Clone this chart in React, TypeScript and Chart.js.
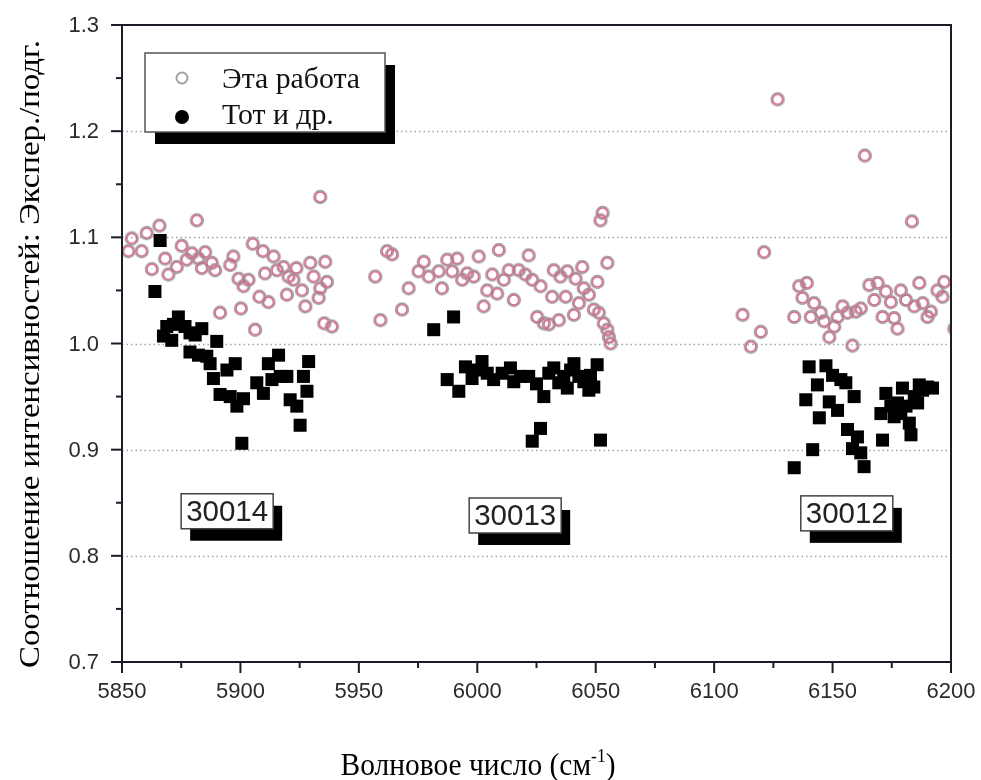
import React, { useEffect, useRef } from "react";
import { Chart, registerables } from "chart.js";
Chart.register(...registerables);

const X_MIN = 5850;
const X_MAX = 6200;
const Y_MIN = 0.7;
const Y_MAX = 1.3;
const X_STEP = 50;
const Y_STEP = 0.1;
const xTickLabels = ["5850", "5900", "5950", "6000", "6050", "6100", "6150", "6200"];
const yTickLabels = ["0.7", "0.8", "0.9", "1.0", "1.1", "1.2", "1.3"];
const gridValues = [0.8, 0.9, 1.0, 1.1, 1.2];

const xTitleMain = "Волновое число (см";
const xTitleSup = "-1";
const xTitleEnd = ")";
const yTitle = "Соотношение интенсивностей: Экспер./подг.";
const legendLabels = ["Эта работа", "Тот и др."];

const bandLabels = ["30014", "30013", "30012"];
const bandLabelX = [5894.4, 6016.0, 6156.0];
const bandLabelY = [0.842, 0.838, 0.84];

// "Эта работа" (open circles)
const thisWorkX = [
  5852.7, 5854.1, 5858.3, 5860.4, 5862.6, 5865.8, 5868.2, 5869.6, 5873.1, 5875.2,
  5877.3, 5879.5, 5881.6, 5882.3, 5883.7, 5885.1, 5887.9, 5889.3, 5891.4, 5895.7,
  5897.0, 5899.2, 5900.2, 5901.3, 5903.4, 5905.2, 5906.2, 5908.0, 5909.5, 5910.4,
  5911.8, 5914.0, 5915.4, 5918.2, 5919.6, 5920.3, 5922.4, 5923.6, 5926.0, 5927.4,
  5929.5, 5930.9, 5933.0, 5933.7, 5933.7, 5935.4, 5935.8, 5936.5, 5938.6,
  5956.9, 5959.1, 5961.9, 5964.0, 5968.2, 5971.0, 5975.2, 5977.4, 5979.5, 5983.7,
  5985.1, 5987.3, 5989.4, 5991.5, 5993.6, 5995.7, 5998.5, 6000.6, 6002.7, 6004.2,
  6006.3, 6008.4, 6009.1, 6011.2, 6013.3, 6015.4, 6017.5, 6020.3, 6021.7, 6023.2,
  6025.3, 6026.7, 6028.1, 6030.2, 6031.6, 6032.3, 6034.4, 6035.1, 6037.3, 6038.0,
  6040.8, 6041.5, 6042.9, 6044.3, 6045.0, 6047.1, 6049.2, 6050.7, 6051.3, 6052.0,
  6052.9, 6053.4, 6054.9, 6054.9, 6055.6, 6056.3,
  6112.0, 6115.5, 6119.7, 6121.1, 6126.8, 6133.8, 6135.9, 6137.3, 6139.1, 6140.8,
  6142.2, 6145.0, 6146.4, 6148.6, 6150.7, 6152.1, 6154.2, 6156.3, 6158.4, 6159.8,
  6161.9, 6163.6, 6165.5, 6167.6, 6169.0, 6171.1, 6172.5, 6174.6, 6176.0, 6177.4,
  6178.8, 6181.0, 6183.5, 6184.5, 6186.6, 6188.0, 6190.1, 6191.5, 6194.3, 6196.4,
  6197.1, 6201.4,
];
const thisWorkY = [
  1.087, 1.099, 1.087, 1.104, 1.07, 1.111, 1.08, 1.065, 1.072, 1.092,
  1.079, 1.085, 1.116, 1.08, 1.071, 1.086, 1.076, 1.069, 1.029, 1.074,
  1.082, 1.061, 1.033, 1.054, 1.06, 1.094, 1.013, 1.044, 1.087, 1.066,
  1.039, 1.082, 1.069, 1.072, 1.046, 1.063, 1.06, 1.071, 1.05, 1.035,
  1.076, 1.063, 1.043, 1.052, 1.138, 1.019, 1.077, 1.058, 1.016,
  1.063, 1.022, 1.087, 1.084, 1.032, 1.052, 1.068, 1.077, 1.063, 1.068,
  1.052, 1.079, 1.068, 1.08, 1.06, 1.066, 1.063, 1.082, 1.035, 1.05,
  1.065, 1.047, 1.088, 1.06, 1.069, 1.041, 1.069, 1.065, 1.083, 1.06,
  1.025, 1.054, 1.019, 1.018, 1.044, 1.069, 1.022, 1.063, 1.044, 1.068,
  1.027, 1.061, 1.038, 1.072, 1.052, 1.046, 1.032, 1.058, 1.029, 1.116,
  1.123, 1.019, 1.013, 1.076, 1.006, 1.0,
  1.027, 0.997, 1.011, 1.086, 1.23, 1.025, 1.054, 1.043, 1.057, 1.025,
  1.038, 1.029, 1.021, 1.006, 1.016, 1.025, 1.035, 1.029, 0.998, 1.03,
  1.033, 1.177, 1.055, 1.041, 1.057, 1.025, 1.049, 1.039, 1.024, 1.014,
  1.05, 1.041, 1.115, 1.035, 1.057, 1.038, 1.025, 1.03, 1.05, 1.044,
  1.058, 1.014,
];

// "Тот и др." (filled squares)
const totX = [
  5863.9, 5866.1, 5867.5, 5868.9, 5871.0, 5871.7, 5873.8, 5876.6, 5878.7, 5878.7,
  5880.9, 5882.3, 5883.7, 5885.8, 5887.2, 5888.6, 5890.0, 5891.4, 5894.3, 5895.7,
  5897.8, 5898.5, 5900.6, 5901.3, 5906.9, 5909.7, 5911.8, 5913.3, 5916.1, 5916.8,
  5919.6, 5921.0, 5923.8, 5925.2, 5926.6, 5928.1, 5928.8,
  5981.6, 5987.3, 5990.0, 5992.2, 5995.0, 5997.8, 5999.5, 6002.0, 6004.2, 6006.9,
  6010.5, 6014.0, 6015.4, 6018.2, 6021.7, 6023.2, 6025.0, 6026.7, 6028.1, 6030.2,
  6032.3, 6034.4, 6036.5, 6038.0, 6039.4, 6040.8, 6042.9, 6045.0, 6047.1, 6047.8,
  6049.2, 6050.6, 6052.0,
  6133.8, 6138.7, 6140.1, 6141.6, 6143.6, 6144.4, 6147.2, 6148.6, 6150.0, 6152.1,
  6153.5, 6155.6, 6156.3, 6158.4, 6159.1, 6160.5, 6161.9, 6163.3, 6170.4, 6171.1,
  6172.5, 6174.6, 6176.0, 6177.4, 6178.8, 6179.5, 6181.0, 6182.4, 6183.1, 6184.5,
  6185.9, 6186.6, 6188.0, 6190.1, 6192.2,
];
const totY = [
  1.049, 1.097, 1.007, 1.016, 1.003, 1.018, 1.025, 1.016, 1.01, 0.992,
  1.008, 0.989, 1.014, 0.988, 0.981, 0.967, 1.002, 0.952, 0.975, 0.95,
  0.981, 0.941, 0.906, 0.948, 0.963, 0.953, 0.981, 0.966, 0.989, 0.969,
  0.969, 0.947, 0.941, 0.923, 0.969, 0.955, 0.983,
  1.013, 0.966, 1.025, 0.955, 0.978, 0.967, 0.975, 0.983, 0.972, 0.966,
  0.972, 0.977, 0.964, 0.969, 0.969, 0.908, 0.962, 0.92, 0.95, 0.972,
  0.977, 0.963, 0.969, 0.958, 0.975, 0.981, 0.969, 0.964, 0.956, 0.97,
  0.959, 0.98, 0.909,
  0.883, 0.947, 0.978, 0.9, 0.961, 0.93, 0.979, 0.945, 0.97, 0.937,
  0.966, 0.963, 0.919, 0.901, 0.95, 0.912, 0.897, 0.884, 0.934, 0.909,
  0.953, 0.941, 0.931, 0.944, 0.934, 0.958, 0.941, 0.925, 0.914, 0.95,
  0.944, 0.961, 0.956, 0.959, 0.958,
];

const SERIF = '"Liberation Serif", "DejaVu Serif", serif';
const SANS = '"Liberation Sans", Arial, sans-serif';

function makeRing(): HTMLCanvasElement {
  const c = document.createElement("canvas");
  c.width = 18;
  c.height = 18;
  const g = c.getContext("2d")!;
  g.lineWidth = 1.6;
  g.strokeStyle = "#a0a0a0";
  g.beginPath();
  g.arc(9, 9, 6.4, 0, Math.PI * 2);
  g.stroke();
  g.lineWidth = 1.5;
  g.strokeStyle = "#d6608c";
  g.beginPath();
  g.arc(9, 9, 5.0, 0, Math.PI * 2);
  g.stroke();
  return c;
}

const decorPlugin = {
  id: "decor",
  beforeDatasetsDraw(chart: any) {
    const { ctx, chartArea } = chart;
    const ys = chart.scales.y;
    ctx.save();
    ctx.strokeStyle = "#8fb08a";
    ctx.lineWidth = 1.5;
    ctx.setLineDash([1.5, 3]);
    gridValues.forEach((v) => {
      const py = Math.round(ys.getPixelForValue(v)) + 0.5;
      ctx.beginPath();
      ctx.moveTo(chartArea.left, py);
      ctx.lineTo(chartArea.right, py);
      ctx.stroke();
    });
    ctx.restore();
  },
  afterDatasetsDraw(chart: any) {
    const { ctx, chartArea } = chart;
    const xs = chart.scales.x;
    const ys = chart.scales.y;
    const { left, right, top, bottom } = chartArea;
    ctx.save();
    // ticks
    ctx.strokeStyle = "#1c1c28";
    ctx.lineWidth = 2;
    for (let i = 0; i <= Math.round((X_MAX - X_MIN) / (X_STEP / 2)); i++) {
      const v = X_MIN + (i * X_STEP) / 2;
      const px = xs.getPixelForValue(v);
      const major = i % 2 === 0;
      ctx.beginPath();
      ctx.moveTo(px, bottom);
      ctx.lineTo(px, bottom + (major ? 11 : 6));
      ctx.stroke();
    }
    for (let i = 0; i <= Math.round((Y_MAX - Y_MIN) / (Y_STEP / 2)); i++) {
      const v = Y_MIN + (i * Y_STEP) / 2;
      const py = ys.getPixelForValue(v);
      const major = i % 2 === 0;
      ctx.beginPath();
      ctx.moveTo(left, py);
      ctx.lineTo(left - (major ? 11 : 6), py);
      ctx.stroke();
    }
    // frame
    ctx.strokeRect(left, top, right - left, bottom - top);

    // tick labels
    ctx.fillStyle = "#2b2b2b";
    ctx.font = `22px ${SANS}`;
    ctx.textAlign = "center";
    ctx.textBaseline = "middle";
    xTickLabels.forEach((t, i) => {
      ctx.fillText(t, xs.getPixelForValue(X_MIN + i * X_STEP), bottom + 30);
    });
    ctx.textAlign = "right";
    yTickLabels.forEach((t, i) => {
      ctx.fillText(t, left - 23, ys.getPixelForValue(Y_MIN + i * Y_STEP) + 1);
    });

    // band labels
    ctx.font = `30px ${SANS}`;
    ctx.textAlign = "left";
    ctx.textBaseline = "middle";
    bandLabels.forEach((t, i) => {
      const cx = xs.getPixelForValue(bandLabelX[i]);
      const cy = ys.getPixelForValue(bandLabelY[i]);
      const w = 92, h = 35;
      const bx = cx - w / 2, by = cy - h / 2;
      ctx.fillStyle = "#000";
      ctx.fillRect(bx + 9, by + 12, w, h);
      ctx.fillStyle = "#fff";
      ctx.fillRect(bx, by, w, h);
      ctx.strokeStyle = "#444";
      ctx.lineWidth = 1.5;
      ctx.strokeRect(bx, by, w, h);
      ctx.fillStyle = "#222";
      const tw = ctx.measureText(t).width;
      ctx.save();
      ctx.translate(bx + 5, cy + 1);
      ctx.scale(82 / tw, 1);
      ctx.fillText(t, 0, 0);
      ctx.restore();
    });

    // legend
    const lx = 145, ly = 53, lw = 240, lh = 79;
    ctx.fillStyle = "#000";
    ctx.fillRect(lx + 10, ly + 12, lw, lh);
    ctx.fillStyle = "#fff";
    ctx.fillRect(lx, ly, lw, lh);
    ctx.strokeStyle = "#555";
    ctx.lineWidth = 1.5;
    ctx.strokeRect(lx, ly, lw, lh);
    ctx.lineWidth = 2;
    ctx.strokeStyle = "#a0a0a0";
    ctx.beginPath();
    ctx.arc(182, 78, 5.5, 0, Math.PI * 2);
    ctx.stroke();
    ctx.fillStyle = "#000";
    ctx.beginPath();
    ctx.arc(182, 117, 7, 0, Math.PI * 2);
    ctx.fill();
    ctx.font = `30px ${SERIF}`;
    ctx.textBaseline = "alphabetic";
    ctx.fillStyle = "#111";
    const w0 = ctx.measureText(legendLabels[0]).width;
    const sx = 138 / w0;
    [88, 124].forEach((by, i) => {
      ctx.save();
      ctx.translate(222, by);
      ctx.scale(sx, 1);
      ctx.fillText(legendLabels[i], 0, 0);
      ctx.restore();
    });

    // y title
    ctx.save();
    ctx.font = `30px ${SERIF}`;
    ctx.fillStyle = "#000";
    ctx.textAlign = "center";
    ctx.textBaseline = "middle";
    ctx.translate(31, 354);
    ctx.rotate(-Math.PI / 2);
    const yw = ctx.measureText(yTitle).width;
    ctx.scale(628 / yw, 1);
    ctx.fillText(yTitle, 0, 0);
    ctx.restore();

    // x title with superscript
    ctx.save();
    ctx.fillStyle = "#000";
    ctx.textAlign = "left";
    ctx.textBaseline = "alphabetic";
    const mainFont = `32px ${SERIF}`;
    const supFont = `19px ${SERIF}`;
    ctx.font = mainFont;
    const a = ctx.measureText(xTitleMain).width;
    const c = ctx.measureText(xTitleEnd).width;
    ctx.font = supFont;
    const b = ctx.measureText(xTitleSup).width;
    const total = a + b + c;
    const target = 275;
    const s = target / total;
    ctx.translate(478 - target / 2, 775);
    ctx.scale(s, 1);
    ctx.font = mainFont;
    ctx.fillText(xTitleMain, 0, 0);
    ctx.font = supFont;
    ctx.fillText(xTitleSup, a, -13);
    ctx.font = mainFont;
    ctx.fillText(xTitleEnd, a + b, 0);
    ctx.restore();

    ctx.restore();
  },
};

export default function App() {
  const ref = useRef<HTMLCanvasElement | null>(null);
  useEffect(() => {
    if (!ref.current) return;
    const ring = makeRing();
    const chart = new Chart(ref.current, {
      type: "scatter",
      data: {
        datasets: [
          {
            label: legendLabels[1],
            data: totX.map((x, i) => ({ x, y: totY[i] })),
            pointStyle: "rect",
            pointRadius: 9.2,
            pointBackgroundColor: "#000",
            pointBorderWidth: 0,
            clip: 0,
          } as any,
          {
            label: legendLabels[0],
            data: thisWorkX.map((x, i) => ({ x, y: thisWorkY[i] })),
            pointStyle: ring,
            pointRadius: 7,
            clip: 0,
          } as any,
        ],
      },
      options: {
        responsive: false,
        animation: false,
        events: [],
        layout: { padding: { top: 25, right: 30, left: 0, bottom: 0 } },
        plugins: { legend: { display: false }, tooltip: { enabled: false }, title: { display: false } },
        scales: {
          x: {
            type: "linear",
            min: X_MIN,
            max: X_MAX,
            grid: { display: false, drawTicks: false },
            border: { display: false },
            ticks: { display: false, stepSize: X_STEP },
            afterFit: (s: any) => {
              s.height = 118;
            },
          },
          y: {
            type: "linear",
            min: Y_MIN,
            max: Y_MAX,
            grid: { display: false, drawTicks: false },
            border: { display: false },
            ticks: { display: false, stepSize: Y_STEP },
            afterFit: (s: any) => {
              s.width = 122;
            },
          },
        },
      },
      plugins: [decorPlugin],
    });
    return () => chart.destroy();
  }, []);
  return (
    <div style={{ position: "fixed", left: 0, top: 0, width: 981, height: 780, background: "#fff" }}>
      <canvas ref={ref} width={981} height={780} style={{ display: "block", width: 981, height: 780 }} />
    </div>
  );
}
